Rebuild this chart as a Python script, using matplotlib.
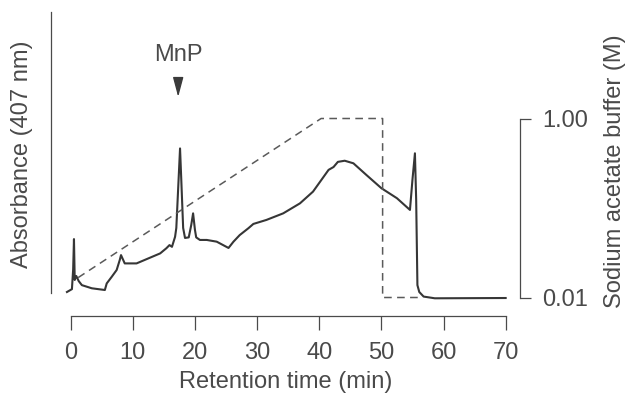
import numpy as np
import matplotlib
matplotlib.use('Agg')
import matplotlib.pyplot as plt

plt.rcParams.update({'font.family': ['Liberation Sans', 'DejaVu Sans'], 'font.size': 17})

# ── 数据: 色谱图 ──
time_min = [-0.6, 0.2, 0.4, 0.53, 0.65, 0.9, 1.3, 1.8, 3.4, 5.5, 5.8, 6.6, 7.4, 7.9, 8.1, 8.7,
            10.6, 14.4, 15.4, 15.9, 16.3, 16.8, 17.0, 17.4, 17.6, 17.8, 18.1, 18.4, 19.0, 19.4,
            19.7, 20.0, 20.2, 20.8, 21.9, 23.5, 25.4, 26.2, 27.2, 28.6, 29.4, 31.5, 34.2, 36.9,
            39.0, 41.5, 42.3, 43.0, 44.1, 45.5, 47.6, 50.0, 52.5, 54.6, 55.0, 55.4, 55.6, 55.8,
            56.1, 56.8, 58.6, 70.0]
absorbance = [0.021, 0.031, 0.10, 0.206, 0.063, 0.077, 0.059, 0.045, 0.034, 0.028, 0.051, 0.074,
              0.098, 0.133, 0.150, 0.121, 0.121, 0.156, 0.174, 0.185, 0.179, 0.214, 0.245, 0.430,
              0.523, 0.413, 0.245, 0.210, 0.212, 0.255, 0.296, 0.238, 0.212, 0.203, 0.203, 0.197,
              0.175, 0.197, 0.220, 0.244, 0.259, 0.273, 0.296, 0.331, 0.372, 0.448, 0.458, 0.476,
              0.480, 0.471, 0.430, 0.384, 0.349, 0.308, 0.413, 0.506, 0.343, 0.045, 0.021, 0.005,
              -0.001, 0.0]

# 醋酸钠梯度 (M)
grad_time = [1.2, 40.3, 50.2, 50.2, 56.5]
grad_conc = [0.12, 1.00, 1.00, 0.01, 0.01]

mnp_time = 17.3
x_ticks = [0, 10, 20, 30, 40, 50, 60, 70]

GRAY = '#4a4a4a'

fig = plt.figure(figsize=(6.31, 3.95), dpi=100)
ax = fig.add_axes([0.0803, 0.2, 0.7437, 0.7696])
ax2 = ax.twinx()

ax.plot(time_min, absorbance, color='#363636', linewidth=1.5, clip_on=False, zorder=3)
ax2.plot(grad_time, grad_conc, color='#5a5a5a', linewidth=1.1, linestyle=(0, (5, 3.5)),
         clip_on=False)

ax.set_xlim(-3.22, 72.30)
ax.set_ylim(-0.0629, 1.0)
ax2.set_ylim(-0.0923, 1.589)

# 坐标轴样式
for a in (ax, ax2):
    a.spines['top'].set_visible(False)
    for s in a.spines.values():
        s.set_color(GRAY)
        s.set_linewidth(0.9)
ax.spines['right'].set_visible(False)
ax2.spines['left'].set_visible(False)
ax2.spines['bottom'].set_visible(False)
ax.spines['left'].set_bounds(0.016, 1.0)
ax.spines['bottom'].set_bounds(0, 70)
ax2.spines['right'].set_bounds(0.01, 1.0)

ax.set_yticks([])
ax.set_xticks(x_ticks)
ax.tick_params(axis='x', direction='out', length=10, width=0.9, color=GRAY,
               labelcolor=GRAY, pad=8.5, labelsize=17)
ax2.set_yticks([0.01, 1.0])
ax2.set_yticklabels(['0.01', '1.00'])
ax2.tick_params(axis='y', direction='out', length=8, width=0.9, color=GRAY,
                labelcolor=GRAY, pad=8, labelsize=17)

ax.set_xlabel('Retention time (min)', color=GRAY, fontsize=17, labelpad=5.5)
ax.set_ylabel('Absorbance (407 nm)', color=GRAY, fontsize=17)
ax.yaxis.set_label_coords(-0.0377, 0.533)
ax2.set_ylabel('Sodium acetate buffer (M)', color=GRAY, fontsize=17)
ax2.yaxis.set_label_coords(1.179, 0.475)

# MnP 标注
ax.annotate('MnP', xy=(mnp_time, 0.703), xytext=(mnp_time, 0.850),
            ha='center', va='center', color=GRAY, fontsize=17,
            arrowprops=dict(arrowstyle='-|>,head_length=1.2,head_width=0.32',
                            color='#3a3a3a', lw=1.0, mutation_scale=10,
                            shrinkA=9, shrinkB=0))

plt.savefig('out.png', dpi=100)
plt.close()
